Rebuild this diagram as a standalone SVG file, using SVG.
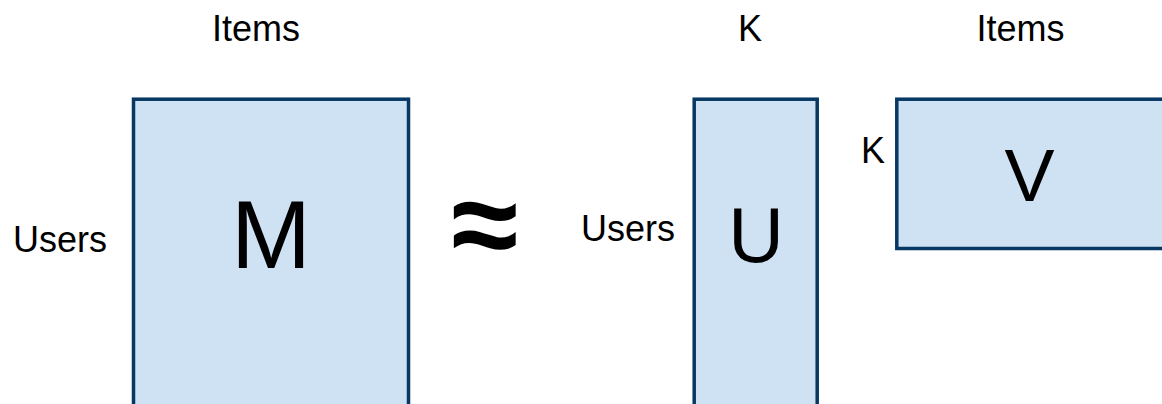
<svg xmlns="http://www.w3.org/2000/svg" width="1162" height="404" viewBox="0 0 1162 404">
<style>
.box{fill:#cfe2f3;stroke:#073763;stroke-width:3.5}
.lbl{font-family:"Liberation Sans",Arial,sans-serif;font-size:36px;fill:#000}
.big{font-family:"Liberation Sans",Arial,sans-serif;fill:#000;text-anchor:middle}
</style>
<rect width="1162" height="404" fill="#ffffff"/>
<g id="M">
<rect class="box" x="133.5" y="99.2" width="275" height="320"/>
<text class="big" x="271" y="268" font-size="96">M</text>
</g>
<g id="U">
<rect class="box" x="694.2" y="99.2" width="123" height="320"/>
<text class="big" x="756" y="262" font-size="77">U</text>
</g>
<g id="V">
<rect class="box" x="896.8" y="99.2" width="280" height="149.3"/>
<text class="big" x="1029.5" y="201" font-size="75">V</text>
</g>
<g id="labels">
<text class="lbl" x="256" y="41" text-anchor="middle">Items</text>
<text class="lbl" x="60" y="252" text-anchor="middle">Users</text>
<text class="lbl" x="628" y="241" text-anchor="middle">Users</text>
<text class="lbl" x="750" y="41" text-anchor="middle">K</text>
<text class="lbl" x="1020.5" y="41" text-anchor="middle">Items</text>
<text class="lbl" x="873" y="163" text-anchor="middle">K</text>
<text class="big" x="485" y="266" font-size="122" font-weight="bold">≈</text>
</g>
</svg>
